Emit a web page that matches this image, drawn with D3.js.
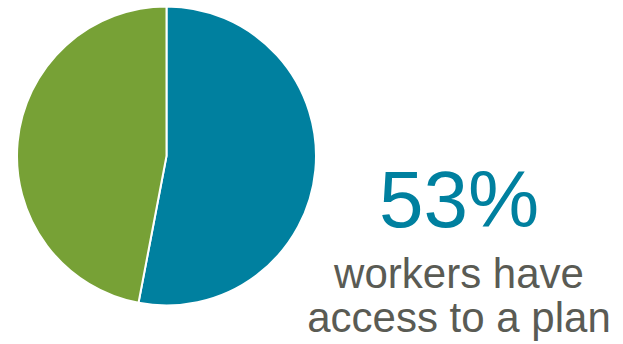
<!DOCTYPE html>
<html>
<head>
<meta charset="utf-8">
<script src="https://cdn.jsdelivr.net/npm/d3@7"></script>
<style>
  body { margin: 0; background: #fff; }
  svg { display: block; }
</style>
</head>
<body>
<script>
// Share of workers with access to a plan
const categories = ["Have access", "No access"];
const shares = [53, 47];
const colors = ["#00809f", "#77a136"];
const headline = "53%";
const captionLines = ["workers have", "access to a plan"];

const width = 623, height = 344;
const cx = 166.5, cy = 156, radius = 149.5;

const svg = d3.select("body").append("svg")
    .attr("width", width)
    .attr("height", height);

// Pie, starting at 12 o'clock and going clockwise
const pie = d3.pie().sort(null).value(d => d)(shares);
const arc = d3.arc().innerRadius(0).outerRadius(radius);

svg.append("g")
    .attr("transform", "translate(" + cx + "," + cy + ")")
    .selectAll("path")
    .data(pie)
    .join("path")
    .attr("d", arc)
    .attr("fill", (d, i) => colors[i])
    .attr("stroke", "#fff")
    .attr("stroke-width", 2)
    .append("title")
    .text((d, i) => categories[i] + ": " + shares[i] + "%");

// Big number
svg.append("text")
    .attr("x", 459)
    .attr("y", 227)
    .attr("text-anchor", "middle")
    .attr("font-family", "Liberation Sans, Arial, sans-serif")
    .attr("font-size", 80)
    .attr("fill", colors[0])
    .text(headline);

// Caption
svg.append("g")
    .selectAll("text")
    .data(captionLines)
    .join("text")
    .attr("x", 459)
    .attr("y", (d, i) => 288 + i * 44)
    .attr("text-anchor", "middle")
    .attr("font-family", "Liberation Sans, Arial, sans-serif")
    .attr("font-size", 42)
    .attr("fill", "#5a5b54")
    .text(d => d);
</script>
</body>
</html>
